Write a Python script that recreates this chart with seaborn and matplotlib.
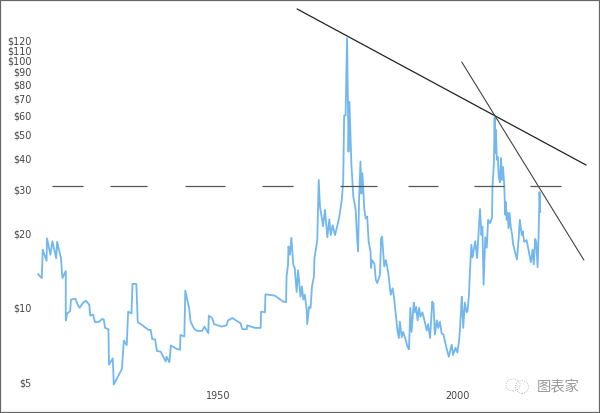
import matplotlib
matplotlib.use("Agg")
import matplotlib.pyplot as plt
from matplotlib.patches import Ellipse
import pandas as pd
import seaborn as sns

# silver price, inflation adjusted
years = [1912.5, 1913.3, 1913.5, 1914.3, 1914.4, 1915.1, 1915.5, 1916.3, 1916.5, 1917.3, 1917.6, 1918.3, 1918.3, 1918.6,
         1919.2, 1919.4, 1920.3, 1920.9, 1921.2, 1921.9, 1922.5, 1923.2, 1923.4, 1924.0, 1924.4, 1925.3, 1925.8, 1926.2,
         1926.5, 1927.2, 1927.3, 1928.1, 1928.3, 1930.0, 1930.4, 1931.0, 1931.3, 1932.0, 1932.2, 1933.0, 1933.3, 1934.3,
         1935.5, 1936.0, 1936.3, 1936.9, 1937.3, 1938.1, 1939.1, 1939.3, 1939.9, 1940.2, 1941.4, 1942.1, 1942.2, 1943.0,
         1943.2, 1944.0, 1944.3, 1945.1, 1945.7, 1946.7, 1947.2, 1948.0, 1948.1, 1948.8, 1949.2, 1950.8, 1951.8, 1952.1,
         1953.0, 1954.7, 1955.1, 1956.0, 1956.1, 1957.7, 1958.9, 1959.0, 1959.8, 1959.9, 1961.9, 1963.6, 1964.2, 1964.3,
         1964.6, 1964.7, 1965.0, 1965.3, 1965.7, 1966.0, 1966.4, 1966.7, 1967.2, 1967.5, 1967.8, 1968.1, 1968.5, 1968.6,
         1969.0, 1969.3, 1969.6, 1970.0, 1970.1, 1970.4, 1970.7, 1971.0, 1971.25, 1971.6, 1971.9, 1972.3, 1972.8, 1973.2,
         1973.5, 1973.9, 1974.4, 1974.9, 1975.3, 1975.8, 1976.1, 1976.3, 1976.6, 1976.9, 1977.1, 1977.2, 1977.4, 1977.6,
         1977.8, 1978.2, 1978.7, 1978.9, 1979.2, 1979.4, 1979.7, 1979.9, 1980.1, 1980.5, 1980.8, 1981.1, 1981.4, 1981.8,
         1981.9, 1982.1, 1982.6, 1982.9, 1983.2, 1983.75, 1984.0, 1984.2, 1984.65, 1985.0, 1985.5, 1986.0, 1986.4, 1986.7,
         1986.9, 1987.4, 1987.7, 1987.9, 1988.3, 1988.6, 1989.0, 1989.5, 1989.8, 1990.1, 1990.35, 1990.8, 1991.0, 1991.3,
         1991.6, 1991.9, 1992.2, 1992.6, 1993.1, 1993.5, 1993.8, 1994.2, 1994.65, 1994.9, 1995.2, 1995.6, 1995.9, 1996.25,
         1996.6, 1997.0, 1997.6, 1998.1, 1998.7, 1999.0, 1999.5, 1999.9, 2000.3, 2000.6, 2000.8, 2001.1, 2001.45, 2001.8,
         2002.0, 2002.3, 2002.5, 2002.8, 2003.05, 2003.6, 2004.0, 2004.6, 2004.9, 2005.1, 2005.35, 2005.7, 2006.0, 2006.3,
         2006.7, 2007.1, 2007.2, 2007.5, 2007.64, 2007.78, 2007.92, 2008.1, 2008.3, 2008.5, 2008.75, 2008.96, 2009.2, 2009.4,
         2009.65, 2009.85, 2010.0, 2010.15, 2010.35, 2010.55, 2010.76, 2011.0, 2011.3, 2011.5, 2011.9, 2012.3, 2012.65, 2012.9,
         2013.3, 2013.5, 2013.8, 2014.3, 2014.7, 2015.2, 2015.55, 2015.8, 2016.1, 2016.3, 2016.6, 2016.8, 2017.0, 2017.15]
prices = [13.7, 13.2, 17.2, 15.5, 19.1, 16.4, 18.6, 15.9, 18.5, 15.9, 13.2, 14.1, 8.9, 9.5,
          9.7, 10.8, 10.9, 10.2, 10.0, 10.5, 10.7, 10.3, 9.3, 9.4, 8.75, 8.8, 9.0, 9.0,
          8.3, 8.2, 5.9, 6.25, 4.9, 5.67, 7.38, 7.07, 9.66, 9.5, 12.5, 12.5, 8.75, 8.5,
          8.15, 8.15, 7.5, 7.45, 6.7, 6.65, 6.07, 6.35, 6.03, 7.05, 6.83, 6.77, 7.78, 7.66,
          11.75, 9.97, 8.8, 8.2, 8.07, 8.07, 8.4, 7.9, 9.3, 9.1, 8.6, 8.4, 8.5, 8.9,
          9.1, 8.67, 8.2, 8.2, 8.5, 8.3, 8.3, 9.66, 9.6, 11.35, 11.2, 10.6, 10.55, 13.4,
          14.9, 17.7, 16.4, 19.2, 14.9, 14.5, 11.6, 14.2, 11.1, 12.2, 10.8, 11.3, 9.8, 8.6,
          10.1, 10.0, 12.2, 13.4, 15.9, 17.2, 18.8, 32.9, 25.7, 23.4, 21.4, 24.9, 19.3, 22.8,
          19.7, 21.6, 19.7, 21.6, 23.4, 27.3, 32.4, 60.0, 60.0, 123.0, 65.0, 42.8, 68.0, 50.8,
          38.4, 28.2, 24.9, 20.6, 16.9, 27.3, 39.0, 29.0, 35.0, 25.0, 23.0, 23.4, 18.5, 16.9,
          14.5, 15.6, 15.1, 13.0, 12.6, 13.6, 19.1, 19.4, 14.7, 15.6, 13.8, 11.3, 12.0, 11.0,
          10.1, 8.1, 7.55, 8.8, 7.6, 8.0, 7.55, 6.96, 6.8, 10.0, 8.0, 10.5, 9.6, 10.1,
          8.9, 10.0, 9.2, 9.6, 8.8, 8.1, 8.6, 7.55, 10.6, 10.4, 7.8, 8.9, 8.3, 8.8,
          7.9, 7.8, 6.9, 6.35, 7.1, 6.45, 6.9, 6.6, 7.55, 9.4, 11.1, 8.3, 10.5, 9.6,
          9.7, 11.3, 14.0, 18.0, 16.0, 18.6, 15.9, 25.1, 19.7, 21.3, 12.4, 19.3, 17.5, 22.7,
          22.0, 23.1, 30.9, 38.5, 58.6, 42.3, 52.4, 39.7, 40.7, 33.8, 32.2, 40.4, 32.9, 37.1,
          31.4, 23.8, 26.8, 22.7, 24.2, 21.0, 24.2, 21.3, 19.7, 18.1, 16.8, 15.7, 19.0, 22.7,
          19.7, 20.4, 18.5, 18.8, 17.2, 15.3, 17.2, 15.0, 19.0, 18.5, 14.6, 19.3, 29.4, 24.4]

# hand drawn annotation lines
trend_a_years = [1966.5, 2026.7]
trend_a_prices = [161.5, 37.8]
trend_b_years = [2000.8, 2026.25]
trend_b_prices = [98.6, 15.6]
dash_level = 31.1
dash_starts = [1915.4, 1927.5, 1943.1, 1959.2, 1975.4, 1989.6, 2003.3, 2015.0]
dash_ends = [1921.9, 1935.2, 1951.5, 1965.6, 1983.1, 1995.8, 2009.6, 2021.5]

price_ticks = [5, 10, 20, 30, 40, 50, 60, 70, 80, 90, 100, 110, 120]
year_ticks = [1950, 2000]

sns.set_theme(style="white")
plt.rcParams['font.family'] = ['DejaVu Sans', 'Noto Sans CJK SC']

df = pd.DataFrame({'year': years, 'price': prices})

fig = plt.figure(figsize=(6, 4.13), dpi=100)
ax = fig.add_axes([0, 0, 1, 1])
sns.lineplot(data=df, x='year', y='price', estimator=None, sort=False, color='#72b8ef', linewidth=1.3, ax=ax)

ax.plot(trend_a_years, trend_a_prices, color='#222222', linewidth=0.9)
ax.plot(trend_b_years, trend_b_prices, color='#444444', linewidth=0.8)
ax.hlines([dash_level] * len(dash_starts), dash_starts, dash_ends, color='#555555', linewidth=0.9)

ax.set_yscale('log')
ax.set_xlim(1904.6, 2029.6)
ax.set_ylim(3.76, 175.6)
ax.set_yticks(price_ticks)
ax.set_yticklabels([f'${p}' for p in price_ticks])
ax.set_xticks(year_ticks)
ax.set_xticklabels([str(y) for y in year_ticks])
ax.minorticks_off()
ax.tick_params(axis='y', which='both', length=0, pad=-23, labelsize=6.9, labelcolor='#444444')
ax.tick_params(axis='x', which='both', length=0, pad=-16, labelsize=6.9, labelcolor='#444444')
ax.set_xlabel('')
ax.set_ylabel('')
for s in ax.spines.values():
    s.set_color('#666666')
    s.set_linewidth(1.6)

# watermark
ax.text(558, 413 - 386, '图表家', transform=None, ha='center', va='center', fontsize=10.3,
        color='#999999', family=['Noto Sans CJK SC', 'DejaVu Sans'])
for cx, cy, w, h in [(513, 385, 14, 12), (522, 387, 13, 13)]:
    ax.add_patch(Ellipse((cx, 413 - cy), w, h, transform=None, fill=False, ec='#aaaaaa', lw=0.6, ls=':'))

fig.savefig('out.png', dpi=100)
